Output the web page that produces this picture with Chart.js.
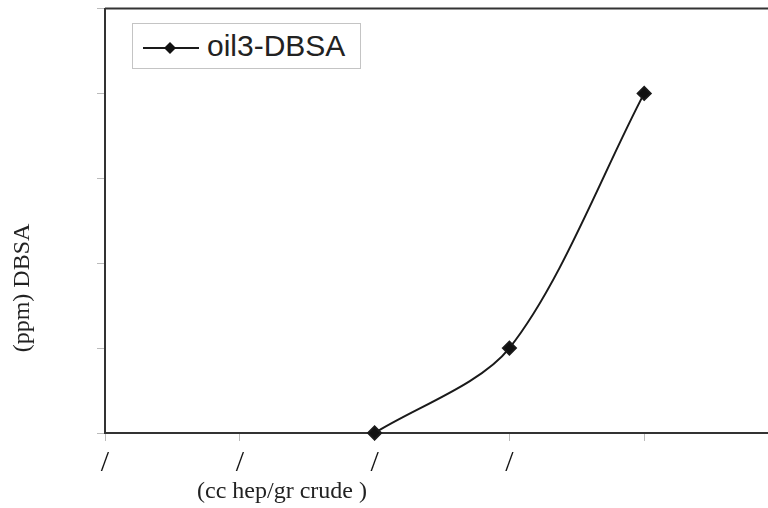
<!DOCTYPE html>
<html>
<head>
<meta charset="utf-8">
<script src="https://cdn.jsdelivr.net/npm/chart.js@4.4.1/dist/chart.umd.min.js"></script>
<style>
  html,body{margin:0;padding:0;background:#fff;overflow:hidden;}
  #wrap{position:relative;width:790px;height:508px;}
  #legendBox{position:absolute;left:132px;top:23px;width:227px;height:44px;border:1px solid #c4c4c4;background:#fff;
    font-family:"Liberation Sans",Arial,sans-serif;font-size:30px;color:#222;display:flex;align-items:center;}
  #legendBox svg{margin-left:10px;margin-right:8px;margin-top:4px;}
</style>
</head>
<body>
<div id="wrap">
  <canvas id="chart" width="790" height="508"></canvas>
  <div id="legendBox">
    <svg width="56" height="14"><line x1="0" y1="7" x2="56" y2="7" stroke="#1a1a1a" stroke-width="2"/><polygon points="27,1 33,7 27,13 21,7" fill="#111"/></svg>
    <span>oil3-DBSA</span>
  </div>
</div>
<script>
// DATA
const categories=['/','/','/','/','',''];
const oil3DBSA=[null,null,0,1,4,null];
const seriesName='oil3-DBSA';
const xTitle='(cc hep/gr crude )';
const yTitle='(ppm) DBSA';

// axis titles + top frame line
const framePlugin={
  id:'framePlugin',
  afterDraw(chart){
    const {ctx,chartArea}=chart;
    ctx.save();
    ctx.strokeStyle='#333';
    ctx.lineWidth=2;
    ctx.beginPath();
    ctx.moveTo(chartArea.left,chartArea.top);
    ctx.lineTo(chartArea.right,chartArea.top);
    ctx.stroke();
    ctx.fillStyle='#222';
    ctx.font='24px "Liberation Serif","Times New Roman",serif';
    ctx.textAlign='center';
    ctx.textBaseline='middle';
    ctx.fillText(xTitle,282,492);
    ctx.translate(23,288);
    ctx.rotate(-Math.PI/2);
    ctx.fillText(yTitle,0,0);
    ctx.restore();
  }
};

const ctx=document.getElementById('chart').getContext('2d');
new Chart(ctx,{
  type:'line',
  data:{labels:categories,datasets:[{label:seriesName,data:oil3DBSA,borderColor:'#1a1a1a',backgroundColor:'#111',
    borderWidth:2,tension:0.3,pointStyle:'rectRot',pointRadius:6.5,pointHoverRadius:6.5,spanGaps:false,clip:false}]},
  options:{
    responsive:false,
    animation:false,
    layout:{padding:{top:8,right:11,left:0,bottom:0}},
    plugins:{legend:{display:false},tooltip:{enabled:false}},
    scales:{
      x:{
        offset:false,
        grid:{drawOnChartArea:false,tickLength:8,color:'#bbb'},
        border:{color:'#333',width:2},
        ticks:{color:'#111',font:{family:'"Liberation Serif","Times New Roman",serif',size:30},padding:4,maxRotation:0,autoSkip:false},
        afterFit:s=>{s.height=75;}
      },
      y:{
        min:0,max:5,
        grid:{drawOnChartArea:false,tickLength:8,color:'#bbb'},
        border:{color:'#333',width:2},
        ticks:{display:false,stepSize:1},
        afterFit:s=>{s.width=105;}
      }
    }
  },
  plugins:[framePlugin]
});
</script>
</body>
</html>
